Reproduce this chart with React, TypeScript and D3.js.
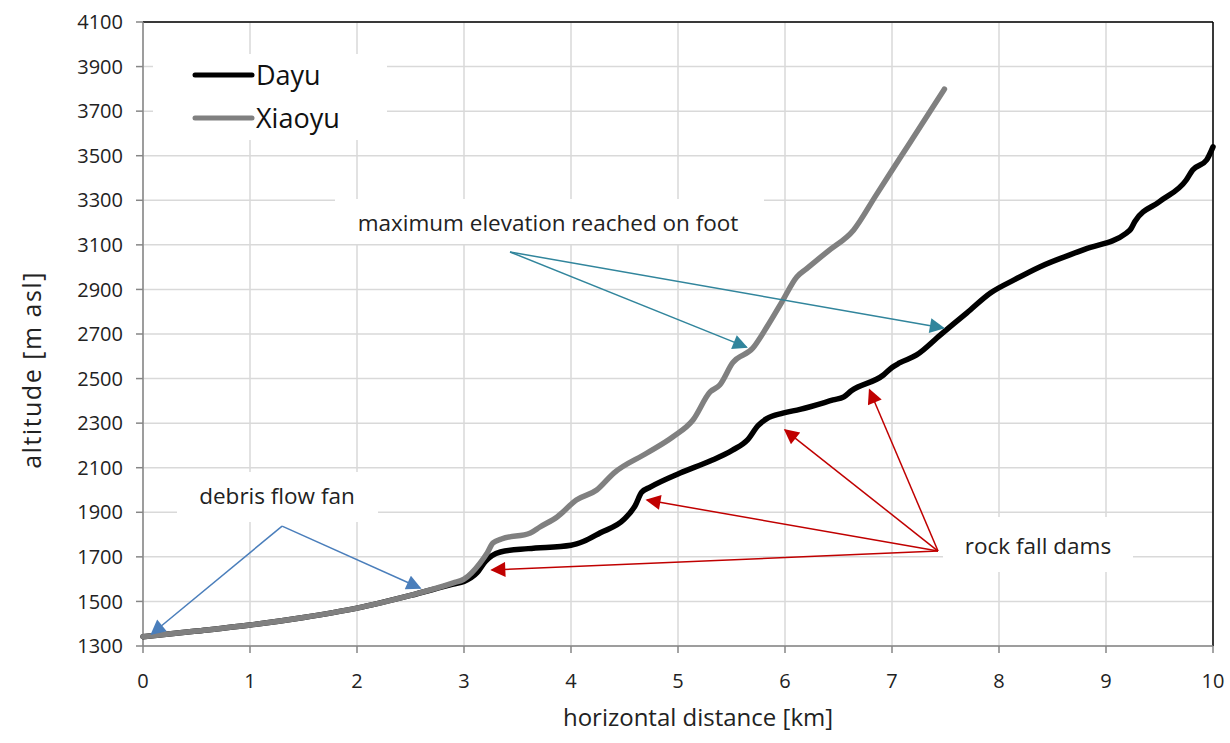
import React from "react";
import * as d3 from "d3";

// profiles [km, m asl]
const dayuX = [0, 0.5, 1, 1.5, 2, 2.5, 2.9, 3.0, 3.12, 3.2, 3.26, 3.34, 3.6, 4.0, 4.12, 4.27, 4.5, 4.6, 4.66, 4.74, 5.02, 5.3, 5.51, 5.65, 5.75, 5.83, 5.98, 6.14, 6.45, 6.55, 6.62, 6.92, 7.0, 7.07, 7.23, 7.45, 7.7, 7.92, 8.15, 8.38, 8.8, 9.19, 9.23, 9.27, 9.5, 9.75, 9.81, 9.94, 10.0];
const dayuY = [1342, 1367, 1394, 1428, 1470, 1527, 1578, 1590, 1628, 1680, 1705, 1722, 1737, 1752, 1770, 1807, 1870, 1930, 1990, 2013, 2076, 2130, 2179, 2225, 2290, 2320, 2345, 2362, 2404, 2418, 2445, 2516, 2550, 2570, 2606, 2695, 2795, 2884, 2945, 3001, 3080, 3153, 3170, 3205, 3294, 3391, 3436, 3481, 3540];

const xiaoyuX = [0, 0.5, 1, 1.5, 2, 2.5, 2.9, 3.0, 3.15, 3.22, 3.27, 3.35, 3.62, 3.71, 3.87, 4.05, 4.24, 4.4, 4.71, 4.95, 5.14, 5.3, 5.39, 5.51, 5.7, 5.83, 5.97, 6.11, 6.2, 6.4, 6.64, 6.85, 7.07, 7.28, 7.49];
const xiaoyuY = [1342, 1367, 1394, 1428, 1470, 1527, 1583, 1600, 1672, 1720, 1762, 1780, 1807, 1834, 1879, 1955, 2000, 2076, 2166, 2238, 2314, 2440, 2471, 2570, 2637, 2731, 2843, 2956, 2992, 3071, 3166, 3322, 3486, 3642, 3799];

const xTicks = [0, 1, 2, 3, 4, 5, 6, 7, 8, 9, 10];
const yTicks = [1300, 1500, 1700, 1900, 2100, 2300, 2500, 2700, 2900, 3100, 3300, 3500, 3700, 3900, 4100];

// annotations (data coords)
const debrisFrom = [1.3, 1838];
const debrisTo = [[0.08, 1354], [2.59, 1560]];
const footFrom = [3.43, 3068];
const footTo = [[5.64, 2641], [7.48, 2727]];
const rockFrom = [7.43, 1726];
const rockTo = [[3.26, 1641], [4.71, 1955], [6.0, 2269], [6.79, 2449]];

const W = 1230, H = 743;
const left = 143, right = 1213, top = 22, bottom = 646;
const font = "'Open Sans', sans-serif";

export default function App() {
  const x = d3.scaleLinear().domain([0, 10]).range([left, right]);
  const y = d3.scaleLinear().domain([1300, 4100]).range([bottom, top]);

  const dayuPath = d3.line<number>().x((d, i) => x(dayuX[i])).y((d) => y(d)).curve(d3.curveMonotoneX)(dayuY);
  const xiaoyuPath = d3.line<number>().x((d, i) => x(xiaoyuX[i])).y((d) => y(d)).curve(d3.curveMonotoneX)(xiaoyuY);

  const arrows = (from: number[], tos: number[][], color: string, id: string) =>
    tos.map((t, i) => (
      <line key={id + i} x1={x(from[0])} y1={y(from[1])} x2={x(t[0])} y2={y(t[1])}
        stroke={color} strokeWidth={1.5} markerEnd={`url(#${id})`} />
    ));

  const marker = (id: string, color: string) => (
    <marker id={id} viewBox="0 0 10 10" refX="9" refY="5" markerWidth="17" markerHeight="15"
      markerUnits="userSpaceOnUse" orient="auto">
      <path d="M0,0 L10,5 L0,10 z" fill={color} />
    </marker>
  );

  return (
    <svg width={W} height={H} style={{ position: "absolute", left: 0, top: 0, background: "#fff" }}>
      <defs>
        {marker("blue", "#4a7ebb")}
        {marker("teal", "#31859c")}
        {marker("red", "#c00000")}
      </defs>
      <rect width={W} height={H} fill="#fff" />
      {/* grid */}
      {yTicks.map((t) => (
        <line key={"gy" + t} x1={left} x2={right} y1={y(t)} y2={y(t)} stroke="#d9d9d9" strokeWidth={1.5} />
      ))}
      {xTicks.map((t) => (
        <line key={"gx" + t} x1={x(t)} x2={x(t)} y1={top} y2={bottom} stroke="#d9d9d9" strokeWidth={1.5} />
      ))}
      {/* frame */}
      <line x1={left} x2={right} y1={top} y2={top} stroke="#000" strokeWidth={1.5} />
      <line x1={right} x2={right} y1={top} y2={bottom} stroke="#000" strokeWidth={1.5} />
      <line x1={left} x2={left} y1={top} y2={bottom} stroke="#868686" strokeWidth={1.5} />
      <line x1={left} x2={right} y1={bottom} y2={bottom} stroke="#868686" strokeWidth={1.5} />
      {yTicks.map((t) => (
        <g key={"ty" + t}>
          <line x1={left - 7} x2={left} y1={y(t)} y2={y(t)} stroke="#868686" strokeWidth={1.5} />
          <text x={left - 20} y={y(t)} dy="0.36em" textAnchor="end" fontFamily={font} fontSize={20} fill="#222">{t}</text>
        </g>
      ))}
      {xTicks.map((t) => (
        <g key={"tx" + t}>
          <line x1={x(t)} x2={x(t)} y1={bottom} y2={bottom + 7} stroke="#868686" strokeWidth={1.5} />
          <text x={x(t)} y={bottom + 42} textAnchor="middle" fontFamily={font} fontSize={20} fill="#222">{t}</text>
        </g>
      ))}
      <text x={698} y={726} textAnchor="middle" fontFamily={font} fontSize={24} fill="#222">horizontal distance [km]</text>
      <text transform={`translate(41,370) rotate(-90)`} textAnchor="middle" fontFamily={font} fontSize={25} letterSpacing={1.5} fill="#222">altitude [m asl]</text>

      {/* text boxes */}
      <rect x={153} y={54} width={234} height={86} fill="#fff" />
      <rect x={335} y={199} width={429} height={45} fill="#fff" />
      <rect x={177} y={472} width={201} height={50} fill="#fff" />
      <rect x={943} y={517} width={190} height={55} fill="#fff" />

      {/* legend */}
      <line x1={195} x2={252} y1={75} y2={75} stroke="#000" strokeWidth={5} strokeLinecap="round" />
      <text x={256} y={85} fontFamily={font} fontSize={27} fill="#111">Dayu</text>
      <line x1={195} x2={252} y1={118} y2={118} stroke="#808080" strokeWidth={5} strokeLinecap="round" />
      <text x={256} y={128} fontFamily={font} fontSize={27} fill="#111">Xiaoyu</text>

      {/* profiles */}
      <path d={dayuPath || ""} fill="none" stroke="#000" strokeWidth={5.5} strokeLinejoin="round" strokeLinecap="round" />
      <path d={xiaoyuPath || ""} fill="none" stroke="#808080" strokeWidth={5.5} strokeLinejoin="round" strokeLinecap="round" />

      {/* annotations */}
      {arrows(debrisFrom, debrisTo, "#4a7ebb", "blue")}
      {arrows(footFrom, footTo, "#31859c", "teal")}
      {arrows(rockFrom, rockTo, "#c00000", "red")}
      <text x={548} y={231} textAnchor="middle" fontFamily={font} fontSize={22.5} fill="#222">maximum elevation reached on foot</text>
      <text x={277} y={504} textAnchor="middle" fontFamily={font} fontSize={22.5} fill="#222">debris flow fan</text>
      <text x={1038} y={554} textAnchor="middle" fontFamily={font} fontSize={22.5} fill="#222">rock fall dams</text>
    </svg>
  );
}
